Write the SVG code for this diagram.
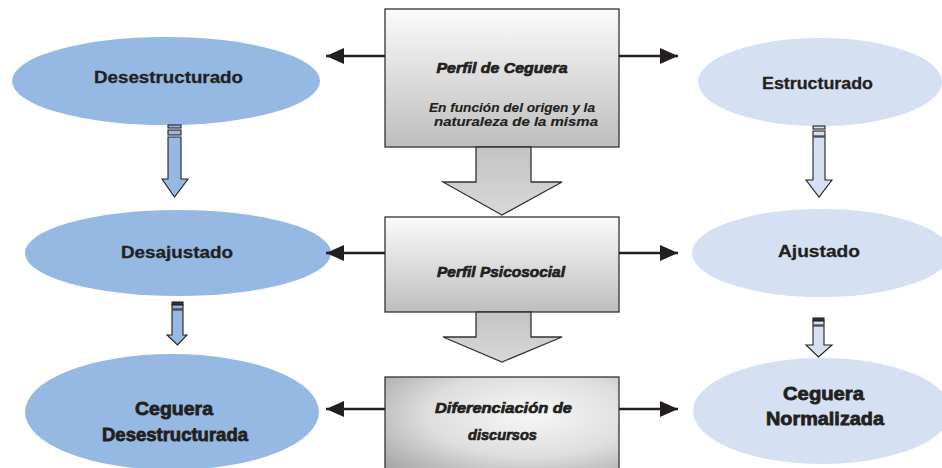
<svg xmlns="http://www.w3.org/2000/svg" width="942" height="468" viewBox="0 0 942 468">
<defs>
<linearGradient id="gBox" x1="0" y1="0" x2="0" y2="1">
<stop offset="0" stop-color="#fbfbfb"/>
<stop offset="1" stop-color="#bebebe"/>
</linearGradient>
<linearGradient id="gArr" x1="0" y1="0" x2="0" y2="1">
<stop offset="0" stop-color="#c4c4c4"/>
<stop offset="1" stop-color="#d8d8d8"/>
</linearGradient>
<radialGradient id="gRad" cx="0.62" cy="0.4" r="0.8">
<stop offset="0" stop-color="#f7f7f7"/>
<stop offset="0.55" stop-color="#dedede"/>
<stop offset="1" stop-color="#a8a8a8"/>
</radialGradient>
<marker id="ah" viewBox="0 0 18 16" refX="18" refY="8" markerWidth="18" markerHeight="16" markerUnits="userSpaceOnUse" orient="auto">
<path d="M0,0 L18,8 L0,16 Z" fill="#231f20"/>
</marker>
<style>
.dark{fill:#95b9e3}
.light{fill:#d5e1f2}
.lbl{font-family:"Liberation Sans",Arial,sans-serif;font-weight:bold;fill:#231f20;text-anchor:middle;stroke:#231f20;stroke-width:0.3}
.big{stroke-width:0.8}
.ctr{font-family:"Liberation Sans",Arial,sans-serif;font-weight:bold;font-style:italic;fill:#231f20;text-anchor:middle;stroke:#231f20;stroke-width:0.7}
.sub{stroke-width:0.15}
.box{stroke:#333;stroke-width:1.3}
.conn{stroke:#231f20;stroke-width:2.6;fill:none;marker-end:url(#ah)}
.va{stroke:#231f20;stroke-width:1.1}
</style>
</defs>

<g id="desestructurado">
<ellipse class="dark" cx="166" cy="81" rx="154" ry="44"/>
<text class="lbl" x="168.5" y="83" font-size="17" textLength="149" lengthAdjust="spacingAndGlyphs">Desestructurado</text>
</g>
<g id="desajustado">
<ellipse class="dark" cx="178" cy="253" rx="153" ry="43"/>
<text class="lbl" x="177" y="258" font-size="17" textLength="112" lengthAdjust="spacingAndGlyphs">Desajustado</text>
</g>
<g id="ceguera-desestructurada">
<ellipse class="dark" cx="172" cy="412" rx="147" ry="58"/>
<text class="lbl big" x="174" y="415" font-size="19" textLength="78" lengthAdjust="spacingAndGlyphs">Ceguera</text>
<text class="lbl big" x="175" y="441" font-size="19" textLength="146" lengthAdjust="spacingAndGlyphs">Desestructurada</text>
</g>

<g id="estructurado">
<ellipse class="light" cx="820" cy="82" rx="122" ry="44"/>
<text class="lbl" x="817.5" y="89" font-size="17" textLength="111" lengthAdjust="spacingAndGlyphs">Estructurado</text>
</g>
<g id="ajustado">
<ellipse class="light" cx="821" cy="253" rx="129" ry="44"/>
<text class="lbl" x="819" y="257" font-size="17" textLength="82" lengthAdjust="spacingAndGlyphs">Ajustado</text>
</g>
<g id="ceguera-normalizada">
<ellipse class="light" cx="822" cy="411" rx="129" ry="53"/>
<text class="lbl big" x="823.5" y="400" font-size="19" textLength="81" lengthAdjust="spacingAndGlyphs">Ceguera</text>
<text class="lbl big" x="825" y="425" font-size="19" textLength="118" lengthAdjust="spacingAndGlyphs">Normalizada</text>
</g>

<g id="perfil-ceguera">
<rect class="box" x="385" y="9" width="234" height="138" fill="url(#gBox)"/>
<polygon class="box" points="476,147 531,147 531,182 562,182 502,215 443,182 476,182" fill="url(#gArr)"/>
<text class="ctr" x="502" y="73" font-size="15" textLength="131" lengthAdjust="spacingAndGlyphs">Perfil de Ceguera</text>
<text class="ctr sub" x="512" y="112" font-size="12.5" textLength="166" lengthAdjust="spacingAndGlyphs">En función del origen y la</text>
<text class="ctr sub" x="516" y="126" font-size="12.5" textLength="164" lengthAdjust="spacingAndGlyphs">naturaleza de la misma</text>
</g>
<g id="perfil-psicosocial">
<rect class="box" x="385" y="217" width="234" height="95" fill="url(#gBox)"/>
<polygon class="box" points="476,312 531,312 531,337 562,337 502,362 443,337 476,337" fill="url(#gArr)"/>
<text class="ctr" x="501" y="277" font-size="15" textLength="128" lengthAdjust="spacingAndGlyphs">Perfil Psicosocial</text>
</g>
<g id="diferenciacion">
<rect class="box" x="385" y="377" width="234" height="95" fill="url(#gRad)"/>
<text class="ctr" x="503.5" y="413" font-size="15" textLength="137" lengthAdjust="spacingAndGlyphs">Diferenciación de</text>
<text class="ctr" x="502.5" y="440" font-size="15" textLength="69" lengthAdjust="spacingAndGlyphs">discursos</text>
</g>

<g id="connectors">
<line class="conn" x1="385" y1="56" x2="326" y2="56"/>
<line class="conn" x1="619" y1="56" x2="678" y2="56"/>
<line class="conn" x1="385" y1="253" x2="326" y2="253"/>
<line class="conn" x1="619" y1="253" x2="678" y2="253"/>
<line class="conn" x1="385" y1="409" x2="326" y2="409"/>
<line class="conn" x1="619" y1="409" x2="678" y2="409"/>

<g class="va" fill="#95b9e3">
<rect x="168" y="125" width="13" height="3"/>
<rect x="168" y="130" width="13" height="5"/>
<polygon points="168,137 181,137 181,179 188,179 174.5,197 162,179 168,179"/>
<rect x="172" y="302" width="11" height="3" fill="#333"/>
<rect x="172" y="305" width="11" height="4"/>
<polygon points="172,310 183,310 183,335 187,335 177.5,345 167,335 172,335"/>
</g>
<g class="va" fill="#d5e1f2">
<rect x="813" y="126" width="12" height="3"/>
<rect x="813" y="131" width="12" height="5"/>
<polygon points="813,137 825,137 825,180 832,180 819,197 806,180 813,180"/>
<rect x="813" y="318" width="11" height="3" fill="#333"/>
<rect x="813" y="321" width="11" height="4"/>
<polygon points="813,326 824,326 824,345 832,345 818.5,357 806,345 813,345"/>
</g>
</g>
</svg>
